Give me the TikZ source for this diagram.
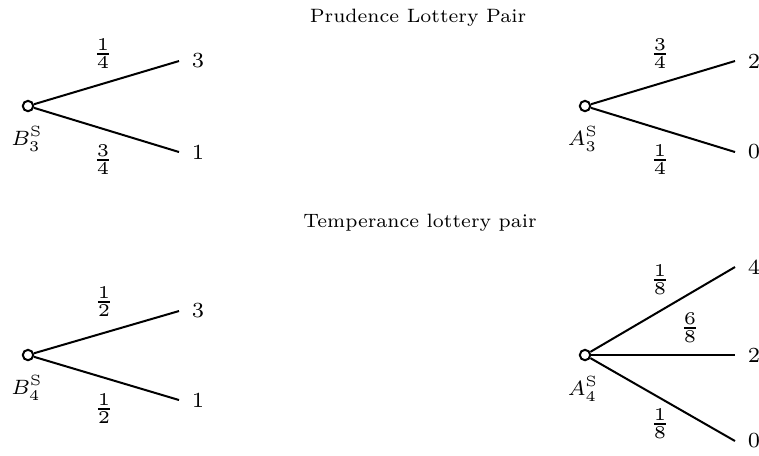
\documentclass[tikz,border=0pt]{standalone}
\usepackage{graphicx}
\newcommand\dtxt[2]{\scalebox{#1}{\fontsize{7}{8}\selectfont #2}}
\begin{document}
\begin{tikzpicture}[x=0.25pt,y=-0.25pt,
  chance/.style={circle,draw,line width=0.5pt,inner sep=0pt,minimum size=2.6pt},
  branch/.style={line width=0.5pt},
  leaf/.style={anchor=west,inner xsep=3pt,inner ysep=0pt},
  prob/.style={inner sep=0pt},
  lname/.style={inner sep=0pt},
  ttl/.style={anchor=base,inner sep=0pt}]
\useasboundingbox (0,0) rectangle (759,455);

% titles
\node[ttl] (t1) at (418,22) {\dtxt{0.69}{Prudence Lottery Pair}};
\node[ttl] (t2) at (420,227) {\dtxt{0.69}{Temperance lottery pair}};

% top-left: B3
\node[chance] (rB3) at (28,106) {};
\node[leaf] (B3a) at (179,61) {\dtxt{0.77}{3}};
\node[leaf] (B3b) at (179,152) {\dtxt{0.77}{1}};
\draw[branch] (rB3) -- (B3a.west);
\draw[branch] (rB3) -- (B3b.west);
\node[prob] (pB3a) at (103,54) {\dtxt{0.9}{$\frac{1}{4}$}};
\node[prob] (pB3b) at (103,160) {\dtxt{0.9}{$\frac{3}{4}$}};
\node[lname] (nB3) at (27,139) {\dtxt{0.74}{$B_3^{\mathrm{S}}$}};

% top-right: A3
\node[chance] (rA3) at (585,106) {};
\node[leaf] (A3a) at (735,61) {\dtxt{0.77}{2}};
\node[leaf] (A3b) at (735,152) {\dtxt{0.77}{0}};
\draw[branch] (rA3) -- (A3a.west);
\draw[branch] (rA3) -- (A3b.west);
\node[prob] (pA3a) at (660,54) {\dtxt{0.9}{$\frac{3}{4}$}};
\node[prob] (pA3b) at (660,160) {\dtxt{0.9}{$\frac{1}{4}$}};
\node[lname] (nA3) at (583,139) {\dtxt{0.74}{$A_3^{\mathrm{S}}$}};

% bottom-left: B4
\node[chance] (rB4) at (28,355) {};
\node[leaf] (B4a) at (179,311) {\dtxt{0.77}{3}};
\node[leaf] (B4b) at (179,400) {\dtxt{0.77}{1}};
\draw[branch] (rB4) -- (B4a.west);
\draw[branch] (rB4) -- (B4b.west);
\node[prob] (pB4a) at (104,302) {\dtxt{0.9}{$\frac{1}{2}$}};
\node[prob] (pB4b) at (104,409) {\dtxt{0.9}{$\frac{1}{2}$}};
\node[lname] (nB4) at (27,388) {\dtxt{0.74}{$B_4^{\mathrm{S}}$}};

% bottom-right: A4
\node[chance] (rA4) at (585,355) {};
\node[leaf] (A4a) at (735,267) {\dtxt{0.77}{4}};
\node[leaf] (A4b) at (735,355) {\dtxt{0.77}{2}};
\node[leaf] (A4c) at (735,441) {\dtxt{0.77}{0}};
\draw[branch] (rA4) -- (A4a.west);
\draw[branch] (rA4) -- (A4b.west);
\draw[branch] (rA4) -- (A4c.west);
\node[prob] (pA4a) at (660,280) {\dtxt{0.9}{$\frac{1}{8}$}};
\node[prob] (pA4b) at (690,328) {\dtxt{0.9}{$\frac{6}{8}$}};
\node[prob] (pA4c) at (660,424) {\dtxt{0.9}{$\frac{1}{8}$}};
\node[lname] (nA4) at (583,389) {\dtxt{0.74}{$A_4^{\mathrm{S}}$}};
\end{tikzpicture}
\end{document}
